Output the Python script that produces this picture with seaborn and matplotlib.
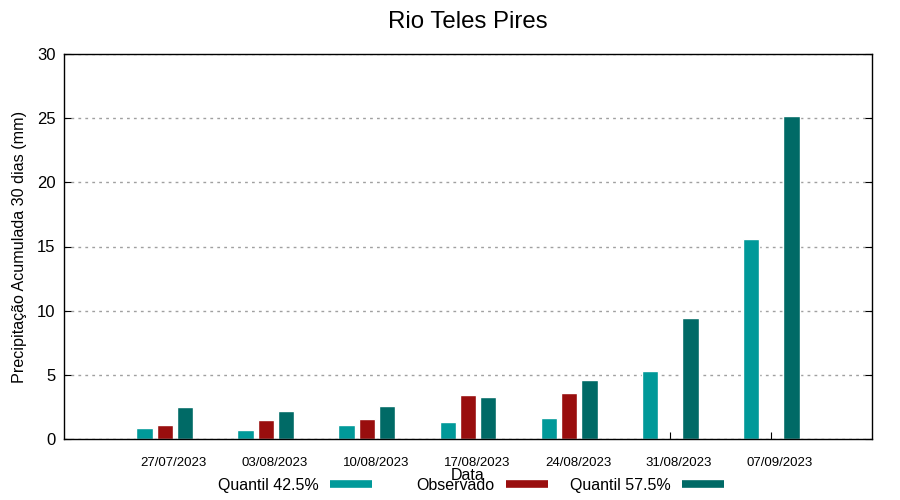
import pandas as pd
import seaborn as sns
import matplotlib.pyplot as plt
import matplotlib.transforms as mtransforms
from matplotlib.lines import Line2D
import numpy as np

# values
datas = ['27/07/2023', '03/08/2023', '10/08/2023', '17/08/2023',
         '24/08/2023', '31/08/2023', '07/09/2023']
quantil_425 = [0.86, 0.7, 1.1, 1.33, 1.64, 5.3, 15.6]
observado = [1.1, 1.48, 1.56, 3.43, 3.59, np.nan, np.nan]
quantil_575 = [2.5, 2.18, 2.57, 3.27, 4.6, 9.43, 25.17]

series = ['Quantil 42.5%', 'Observado', 'Quantil 57.5%']
cores = ['#009999', '#990e0e', '#006a66']

df = pd.DataFrame({
    'Data': datas,
    'Quantil 42.5%': quantil_425,
    'Observado': observado,
    'Quantil 57.5%': quantil_575,
})
df_long = df.melt(id_vars='Data', var_name='serie', value_name='valor')

sns.set_style('white')
plt.rcParams['font.family'] = ['Liberation Sans', 'DejaVu Sans']
plt.rcParams['text.color'] = 'black'
plt.rcParams['axes.labelcolor'] = 'black'
plt.rcParams['xtick.color'] = 'black'
plt.rcParams['ytick.color'] = 'black'

fig, ax = plt.subplots(figsize=(9, 5), dpi=100)
fig.subplots_adjust(left=0.071, right=0.969, top=0.892, bottom=0.122)

sns.barplot(data=df_long, x='Data', y='valor', hue='serie', order=datas,
            hue_order=series, palette=cores, width=0.6, gap=0.18,
            saturation=1, legend=False, ax=ax)

ax.set_xlim(-1, 7)
ax.set_ylim(0, 30)
ax.set_yticks(range(0, 31, 5))
ax.yaxis.grid(True, linestyle=(0, (2, 3)), color='#a0a0a0', linewidth=1)
ax.set_axisbelow(True)
for s in ax.spines.values():
    s.set_color('black')
    s.set_linewidth(1)

ax.tick_params(axis='y', direction='in', length=5, labelsize=12, pad=6,
               left=True, right=True)
ax.tick_params(axis='x', direction='in', length=5, labelsize=9.5,
               bottom=True, top=False, pad=13)

# gnuplot-style labels sit a little right of the tick
off = mtransforms.ScaledTranslation(0.09, 0, fig.dpi_scale_trans)
for lab in ax.get_xticklabels():
    lab.set_transform(lab.get_transform() + off)

ax.set_title('Rio Teles Pires', fontsize=17.3, pad=19)
ax.set_ylabel('Precipitação Acumulada 30 dias (mm)', fontsize=11.6, labelpad=7)
ax.set_xlabel('Data', fontsize=11.5, labelpad=-1)

# one legend entry per series, text before the colour sample (gnuplot key)
fim_amostra = [372, 548, 724]
for nome, cor, xf in zip(series, cores, fim_amostra):
    h = Line2D([], [], color=cor, linewidth=5.5, solid_capstyle='butt')
    fig.legend([h], [nome], loc='center right', bbox_to_anchor=(xf / 900, 0.029),
               frameon=False, markerfirst=False, fontsize=11.5,
               handlelength=2.65, handletextpad=0.7, borderpad=0,
               borderaxespad=0)

fig.savefig('out.png')
